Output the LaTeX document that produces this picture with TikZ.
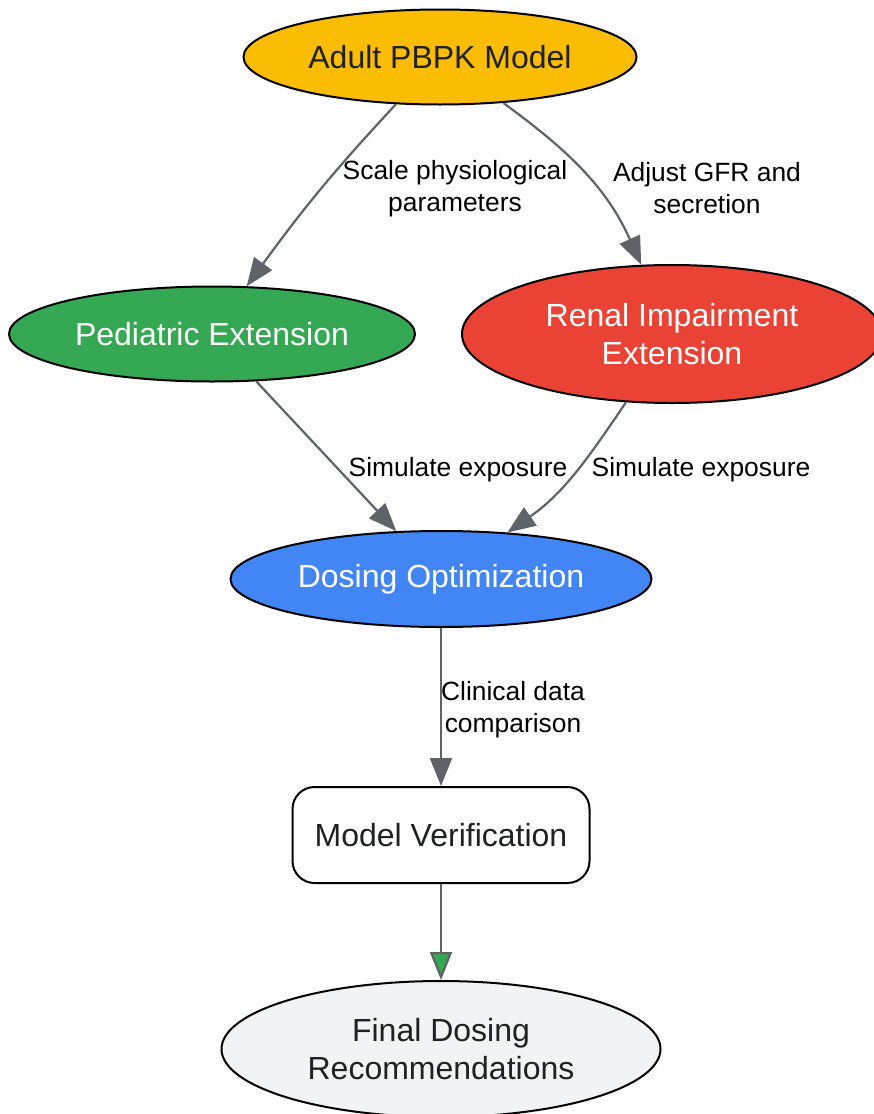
\documentclass[tikz,border=0pt]{standalone}
\usepackage{fontspec}
\setmainfont{Liberation Sans}
\usetikzlibrary{shapes.geometric,arrows.meta}
\definecolor{adultyellow}{HTML}{FBBC04}
\definecolor{pedgreen}{HTML}{34A853}
\definecolor{renalred}{HTML}{EA4335}
\definecolor{doseblue}{HTML}{4285F4}
\definecolor{finalgray}{HTML}{F1F3F4}
\definecolor{edgegray}{HTML}{5F6368}
\definecolor{darktext}{HTML}{202124}
\begin{document}
\begin{tikzpicture}[x=1pt,y=-1pt,
    stage/.style={ellipse,draw=black,line width=2pt,inner sep=0pt,
        font=\fontsize{32}{38}\selectfont,align=center},
    flow/.style={draw=edgegray,line width=2.2pt,-{Triangle[length=28pt,width=22pt]}},
    lbl/.style={font=\fontsize{26.4}{32}\selectfont,align=center,text=black}]
        \useasboundingbox (0,0) rectangle (873,1114);

        % Draw the model stages
        \node[stage,fill=adultyellow,text=darktext,minimum width=393,minimum height=95]
            (adult) at (440,57) {Adult PBPK Model};
        \node[stage,fill=pedgreen,text=white,minimum width=406,minimum height=95]
            (ped) at (212,334) {Pediatric Extension};
        \node[stage,fill=renalred,text=white,minimum width=420,minimum height=138]
            (renal) at (672,334) {Renal Impairment\\Extension};
        \node[stage,fill=doseblue,text=white,minimum width=421,minimum height=96]
            (dosing) at (441,579) {Dosing Optimization};
        \node[draw=black,line width=2pt,rounded corners=22pt,fill=white,text=darktext,
            font=\fontsize{32}{38}\selectfont,minimum width=297,minimum height=96]
            (verif) at (441,835) {Model Verification};
        \node[stage,fill=finalgray,text=darktext,minimum width=439,minimum height=136]
            (final) at (441,1049) {Final Dosing\\Recommendations};

        % Draw the connectors
        \draw[flow] (adult) to[out=-133,in=54] (ped);
        \draw[flow] (adult) to[out=-36,in=114] (renal);
        \draw[flow] (ped) -- (dosing);
        \draw[flow] (renal) to[out=-124,in=35] (dosing);
        \draw[flow] (dosing) -- (verif);
        \draw[draw=edgegray,line width=2.2pt,
            -{Triangle[length=28pt,width=22pt,fill=pedgreen]}] (verif) -- (final);

        % Edge labels
        \node[lbl] (scalelbl) at (455,189) {Scale physiological\\parameters};
        \node[lbl] (gfrlbl) at (707,188) {Adjust GFR and\\secretion};
        \node[lbl] (simped) at (458,470) {Simulate exposure};
        \node[lbl] (simrenal) at (701,470) {Simulate exposure};
        \node[lbl] (clinlbl) at (513,710) {Clinical data\\comparison};
    \end{tikzpicture}
\end{document}
